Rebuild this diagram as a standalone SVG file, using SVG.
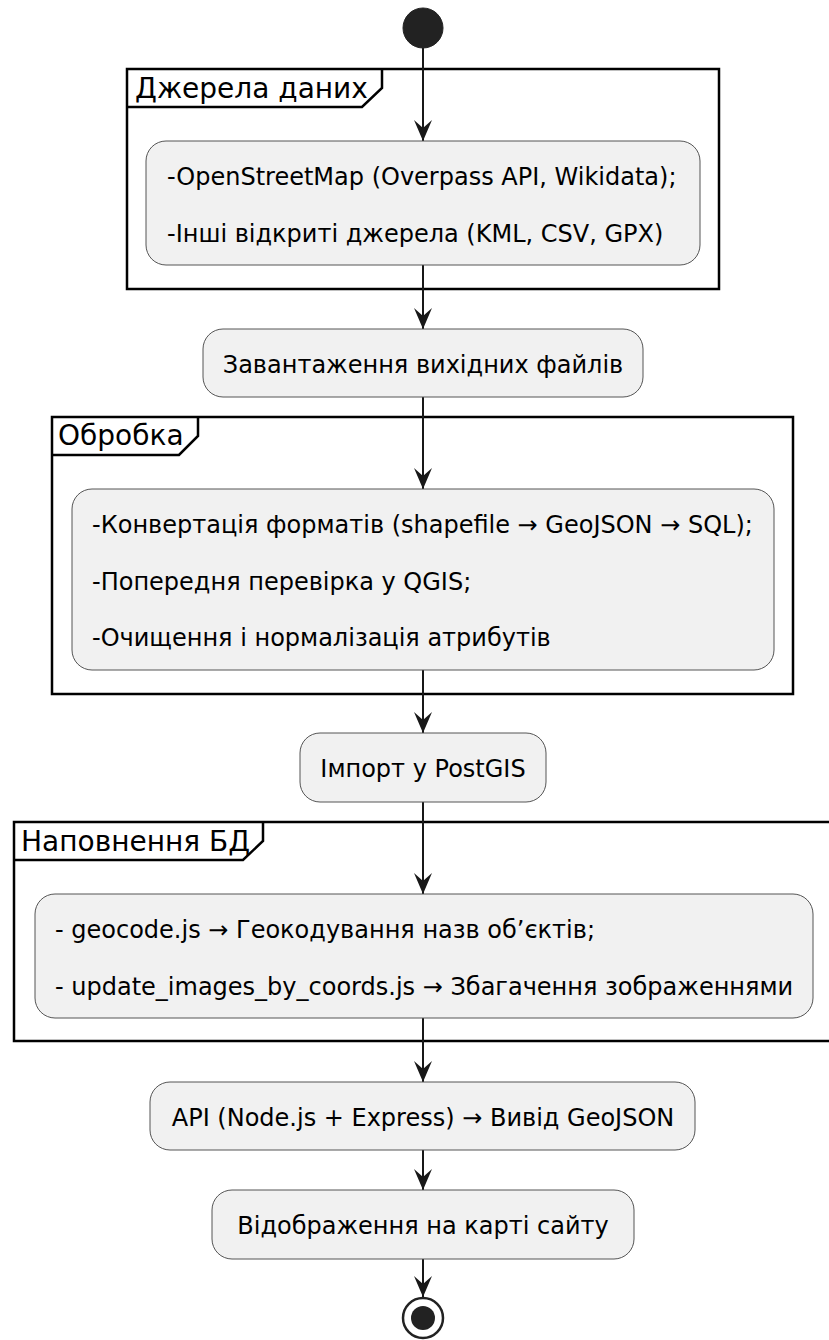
<svg xmlns="http://www.w3.org/2000/svg" width="829" height="1340" viewBox="0 0 829 1340">
<style>
.part{fill:none;stroke:#000;stroke-width:2.5}
.tab{fill:none;stroke:#000;stroke-width:2.5}
.ptitle{font-family:"DejaVu Sans",sans-serif;font-size:28px;fill:#000}
.act{fill:#F1F1F1;stroke:#555;stroke-width:1}
.txt{font-family:"DejaVu Sans",sans-serif;font-size:24px;fill:#000}
.mid{text-anchor:middle}
.conn{stroke:#181818;stroke-width:2;fill:none;marker-end:url(#ah)}
</style>
<defs>
<marker id="ah" markerUnits="userSpaceOnUse" markerWidth="22" markerHeight="20" viewBox="0 0 22 20" refX="21" refY="10" orient="auto">
<path d="M0,1 L21,10 L0,19 L8,10 Z" fill="#181818"/>
</marker>
</defs>
<rect width="829" height="1340" fill="#fff"/>
<g id="partition-sources">
<rect class="part" x="127" y="69" width="592" height="220"/>
<path class="tab" d="M127,107 L362,107 L382,88 L382,69"/>
<text class="ptitle" x="135" y="98">Джерела даних</text>
</g>
<g id="partition-processing">
<rect class="part" x="52" y="417" width="741" height="277"/>
<path class="tab" d="M52,455 L179,455 L198,436 L198,417"/>
<text class="ptitle" x="58" y="445">Обробка</text>
</g>
<g id="partition-db">
<rect class="part" x="14" y="822" width="818" height="219"/>
<path class="tab" d="M14,860 L243,860 L263,841 L263,822"/>
<text class="ptitle" x="21" y="851">Наповнення БД</text>
</g>
<g id="connectors">
<line class="conn" x1="423" y1="48" x2="423" y2="141"/>
<line class="conn" x1="423" y1="265" x2="423" y2="329"/>
<line class="conn" x1="423" y1="397" x2="423" y2="489"/>
<line class="conn" x1="423" y1="670" x2="423" y2="733"/>
<line class="conn" x1="423" y1="802" x2="423" y2="894"/>
<line class="conn" x1="423" y1="1018" x2="423" y2="1082"/>
<line class="conn" x1="423" y1="1150" x2="423" y2="1190"/>
<line class="conn" x1="423" y1="1259" x2="423" y2="1297"/>
</g>
<g id="start">
<circle cx="423" cy="28" r="20" fill="#222" stroke="#222" stroke-width="1"/>
</g>
<g id="sources">
<rect class="act" x="146" y="141" width="554" height="124" rx="20" ry="20"/>
<text class="txt" x="167" y="185">-OpenStreetMap (Overpass API, Wikidata);</text>
<text class="txt" x="167" y="241.5">-Інші відкриті джерела (KML, CSV, GPX)</text>
</g>
<g id="download">
<rect class="act" x="203" y="329" width="440" height="68" rx="20" ry="20"/>
<text class="txt mid" x="423" y="373">Завантаження вихідних файлів</text>
</g>
<g id="processing">
<rect class="act" x="72" y="489" width="702" height="181" rx="20" ry="20"/>
<text class="txt" x="92" y="533">-Конвертація форматів (shapefile → GeoJSON → SQL);</text>
<text class="txt" x="92" y="589.5">-Попередня перевірка у QGIS;</text>
<text class="txt" x="92" y="646">-Очищення і нормалізація атрибутів</text>
</g>
<g id="import">
<rect class="act" x="300" y="733" width="246" height="69" rx="20" ry="20"/>
<text class="txt mid" x="423" y="777">Імпорт у PostGIS</text>
</g>
<g id="fill-db">
<rect class="act" x="35" y="894" width="778" height="124" rx="20" ry="20"/>
<text class="txt" x="55" y="938">- geocode.js → Геокодування назв об’єктів;</text>
<text class="txt" x="55" y="994.5">- update_images_by_coords.js → Збагачення зображеннями</text>
</g>
<g id="api">
<rect class="act" x="150" y="1082" width="545" height="68" rx="20" ry="20"/>
<text class="txt mid" x="423" y="1126">API (Node.js + Express) → Вивід GeoJSON</text>
</g>
<g id="display">
<rect class="act" x="212" y="1190" width="422" height="69" rx="20" ry="20"/>
<text class="txt mid" x="423" y="1234">Відображення на карті сайту</text>
</g>
<g id="end">
<circle cx="423" cy="1318" r="20" fill="#fff" stroke="#222" stroke-width="2.5"/>
<circle cx="423" cy="1318" r="12" fill="#222"/>
</g>
</svg>
